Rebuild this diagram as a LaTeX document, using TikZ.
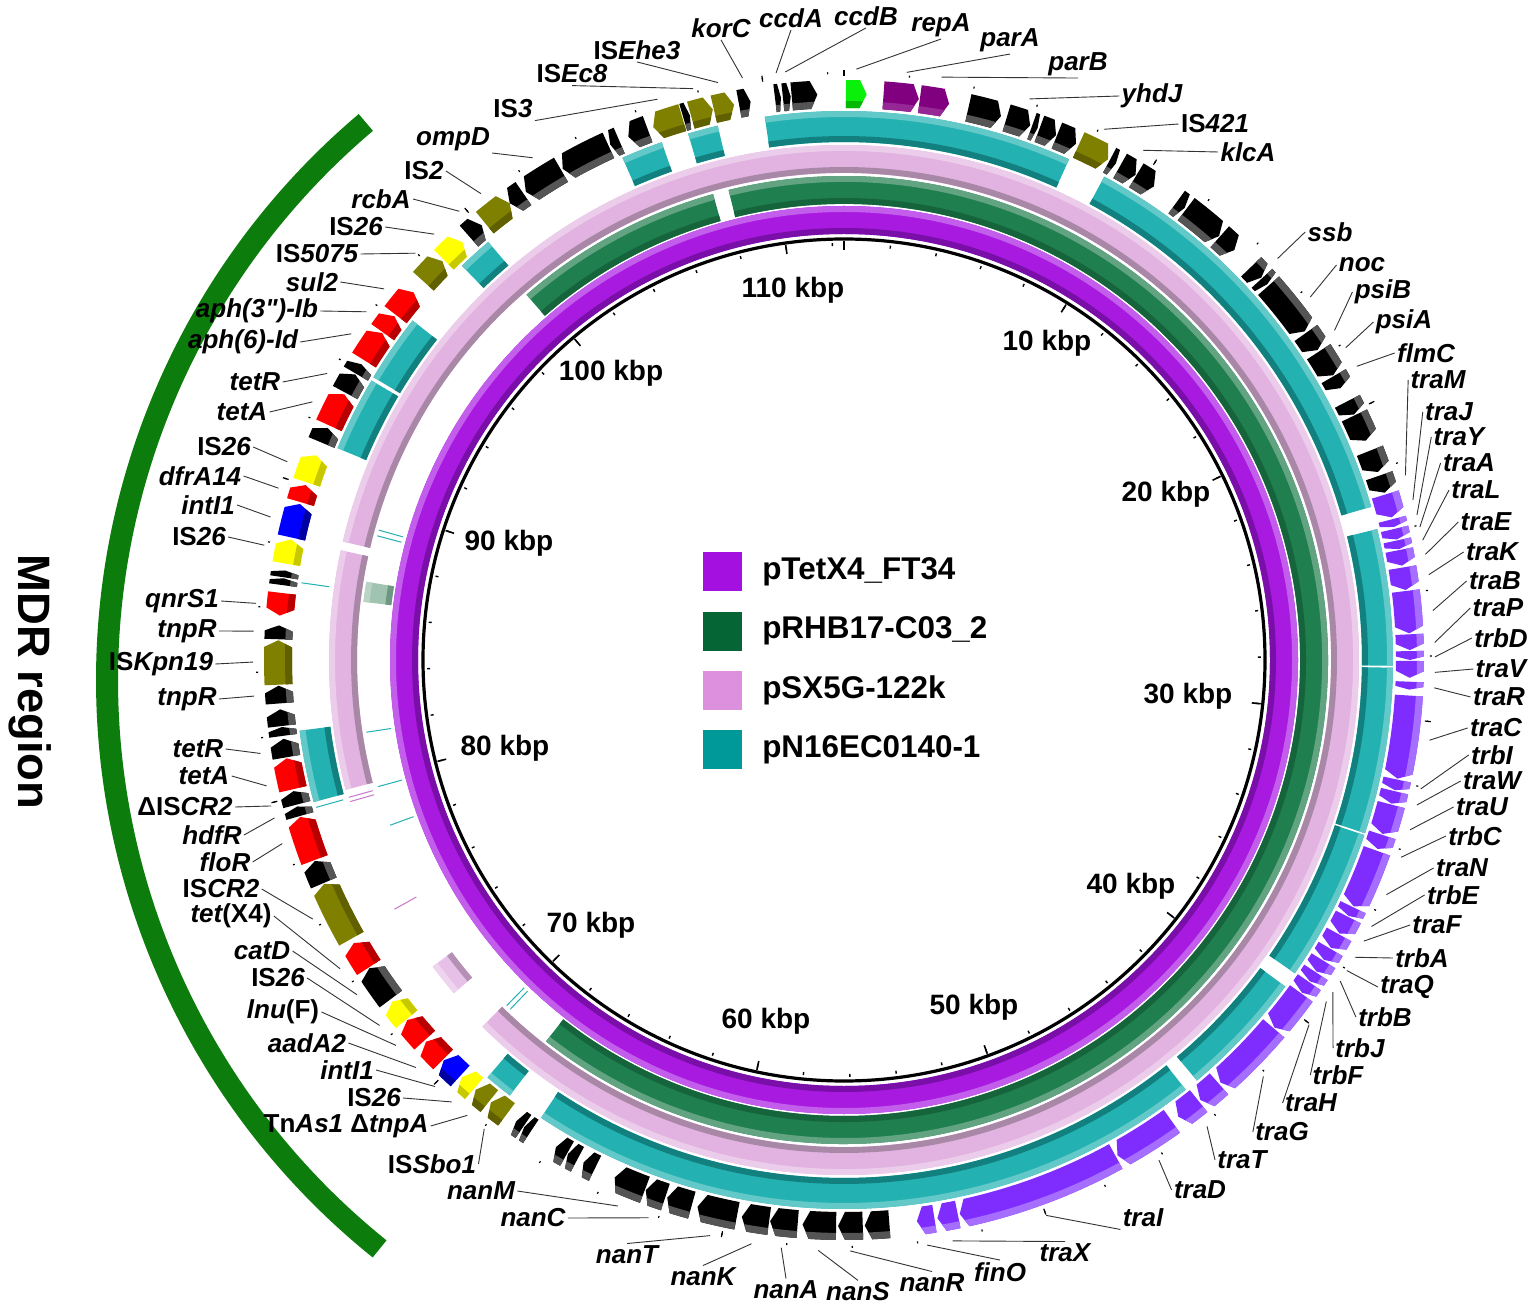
\documentclass[tikz,border=0pt]{standalone}
\usepackage{fontspec}
\setmainfont{Liberation Sans}
\usetikzlibrary{positioning}

\definecolor{pur}{RGB}{168,26,223}
\definecolor{purL}{RGB}{195,94,236}
\definecolor{purD}{RGB}{122,14,168}
\definecolor{grn}{RGB}{31,127,78}
\definecolor{grnL}{RGB}{98,163,130}
\definecolor{grnD}{RGB}{22,100,60}
\definecolor{pnk}{RGB}{226,178,224}
\definecolor{pnkL}{RGB}{236,204,235}
\definecolor{pnkD}{RGB}{168,136,166}
\definecolor{pnkH}{RGB}{200,120,200}
\definecolor{tea}{RGB}{36,177,177}
\definecolor{teaL}{RGB}{99,200,200}
\definecolor{teaD}{RGB}{19,128,128}
\definecolor{sag}{RGB}{160,196,176}
\definecolor{sagL}{RGB}{185,212,197}
\definecolor{sagD}{RGB}{110,150,130}
\definecolor{psq}{RGB}{230,192,230}
\definecolor{psqL}{RGB}{238,212,238}
\definecolor{psqD}{RGB}{180,145,180}
\definecolor{gblk}{RGB}{0,0,0}
\definecolor{gblkS}{RGB}{85,85,85}
\definecolor{golv}{RGB}{128,128,0}
\definecolor{golvS}{RGB}{96,96,0}
\definecolor{gred}{RGB}{255,0,0}
\definecolor{gredS}{RGB}{185,0,0}
\definecolor{gyel}{RGB}{255,255,0}
\definecolor{gyelS}{RGB}{200,200,0}
\definecolor{gblu}{RGB}{0,0,255}
\definecolor{gbluS}{RGB}{0,0,160}
\definecolor{ggrn}{RGB}{10,240,10}
\definecolor{ggrnS}{RGB}{0,185,0}
\definecolor{gpar}{RGB}{128,0,128}
\definecolor{gparS}{RGB}{150,40,150}
\definecolor{gtra}{RGB}{127,45,255}
\definecolor{gtraS}{RGB}{165,110,255}
\definecolor{legpur}{RGB}{163,16,224}
\definecolor{leggrn}{RGB}{5,101,53}
\definecolor{legpnk}{RGB}{221,144,221}
\definecolor{legtea}{RGB}{0,153,153}
\definecolor{mdrgreen}{RGB}{12,125,12}

\tikzset{
  glabel/.style={font=\fontsize{13}{14}\selectfont\bfseries\itshape, inner sep=1pt},
  leader/.style={draw=black!80, line width=0.45pt},
  kbp/.style={font=\fontsize{14}{15}\selectfont\bfseries, inner sep=0pt},
  swatch/.style={minimum size=19.5pt, inner sep=0pt},
  legtext/.style={font=\fontsize{15.7}{17}\selectfont\bfseries, inner sep=0pt},
  hair/.style={line width=0.5pt},
}

\newcommand{\annul}[5]{\fill[#5] (#1:#3) arc[start angle=#1,end angle=#2,radius=#3] -- (#2:#4) arc[start angle=#2,end angle=#1,radius=#4] -- cycle;}

\newcommand{\ringseg}[5]{%
  \pgfmathsetmacro\rsA{#3+6}\pgfmathsetmacro\rsB{#4-6}%
  \annul{#1}{#2}{#3}{#4}{#5}%
  \annul{#1}{#2}{#3}{\rsA}{#5D}%
  \annul{#1}{#2}{\rsB}{#4}{#5L}}

\newcommand{\gene}[4]{%
  \pgfmathsetmacro\gtip{min(0.7,0.4*(#2-#1))}%
  \pgfmathsetmacro\gb{#2-\gtip}%
  \pgfmathsetmacro\gc{#1+\gtip}%
  \pgfmathtruncatemacro\gside{(((#1+#2)/2>45) && ((#1+#2)/2<225)) ? 1 : 0}%
  \ifnum#4>0
    \def\gpath{(#1:552) arc[start angle=#1,end angle=\gb,radius=552] -- (#2:566) -- (\gb:580) arc[start angle=\gb,end angle=#1,radius=580] -- cycle}%
  \else
    \def\gpath{(#1:566) -- (\gc:552) arc[start angle=\gc,end angle=#2,radius=552] -- (#2:580) arc[start angle=#2,end angle=\gc,radius=580] -- cycle}%
  \fi
  \fill[#3] \gpath;
  \begin{scope}
    \clip \gpath;
    \ifnum\gside=1 \annul{#1}{#2}{573}{581}{#3S}\else\annul{#1}{#2}{551}{559}{#3S}\fi
  \end{scope}}

\newcommand{\glab}[5]{%
  \node[glabel] (#1) at (#3) {#5};
  \begin{scope}[shift={(844,660)},rotate=90]\coordinate (#1g) at (#4:591);\end{scope}
  \draw[leader] (#1.#2) -- (#1g);}

\begin{document}
\begin{tikzpicture}[x=0.5pt,y=-0.5pt]
\useasboundingbox (0,0) rectangle (1536,1309);
\fill[white] (0,0) rectangle (1536,1309);

\begin{scope}[shift={(837,680)},rotate=90]
  \draw[mdrgreen, line width=11pt] (218.8:730) arc[start angle=218.8,end angle=319.8,radius=730];
\end{scope}
\node[font=\fontsize{22.7}{24}\selectfont\bfseries, rotate=-90] (mdr) at (30,682) {MDR region};

\begin{scope}[shift={(844,660)},rotate=90]
  \ringseg{0}{360}{426}{454}{pur}
  \ringseg{319.0}{344.3}{456}{484}{grn}
  \ringseg{346.2}{578.0}{456}{484}{grn}
  \ringseg{276.9}{279.3}{456}{484}{sag}
  \ringseg{255.4}{282.3}{487}{515}{pnk}
  \ringseg{283.3}{584.6}{487}{515}{pnk}
  \ringseg{229.5}{233.3}{489}{513}{psq}
  \foreach \a/\b in {351.7/384.2, 28.3/73.8, 76.2/90.6, 90.8/108.4, 108.6/124.8, 126.5/140.0, 141.5/213.5, 217.5/220.5, 255.0/262.6, 292.7/300.6, 301.0/308.2, 315.9/319.6, 336.2/340.6, 343.5/346.7}
    {\ringseg{\a}{\b}{518}{549}{tea}}
  \foreach \t in {284.9,285.6,261.4,254.8,250.0,223.7,224.3}
    \draw[tea, hair] (\t:458) -- (\t:483);
  \foreach \t in {278.1,254.4}
    \draw[tea, hair] (\t:520) -- (\t:548);
  \foreach \t in {241.0,254.5,254.0}
    \draw[pnkH, hair] (\t:489) -- (\t:514);

  \draw[line width=1.6pt] (0,0) circle[radius=421];
  \foreach \t in {0,32,...,352}
    \draw[line width=0.8pt] (\t:410) -- (\t:419);
  \foreach \t in {0,6.4,...,359}
    \draw[line width=0.7pt] (\t:414) -- (\t:417);
  \foreach \t in {0,32,...,352}
    \draw[line width=0.6pt] (\t:584) -- (\t:590);
  \foreach \t in {0,6.4,...,359}
    \draw[line width=0.6pt] (\t:586) -- (\t:588);

  \foreach \a/\b/\d in {12.7/16.1/1, 16.7/19.2/1, 19.4/20.0/1, 20.2/22.0/1, 22.1/24.2/1, 28.0/28.7/1, 29.2/31.0/1, 31.1/33.2/1, 36.0/37.0/1, 37.2/41.5/1, 41.6/43.6/1, 46.0/47.5/1, 47.6/48.4/1, 48.6/54.5/1, 54.7/56.8/1, 57.0/59.8/1, 59.9/61.3/1, 62.8/64.3/1, 64.4/67.2/1, 68.3/70.6/1, 71.0/72.8/1, 175.4/177.9/1, 178.1/180.6/1, 180.8/184.2/1, 184.7/187.5/1, 187.6/190.4/1, 190.9/195.0/1, 195.6/198.2/1, 198.4/200.5/1, 200.6/203.9/1, 206.1/207.4/1, 208.1/209.2/1, 209.3/210.6/1, 213.6/214.4/1, 214.5/215.4/1, 233.2/237.0/1, 246.8/249.2/1, 254.0/255.0/1, 255.2/256.6/1, 260.1/262.0/1, 262.3/263.2/1, 263.3/265.0/1, 265.6/267.4/1, 272.1/273.5/1, 277.6/278.3/1, 278.4/279.1/1, 292.6/294.2/1, 298.2/300.3/1, 300.4/301.5/1, 318.5/320.2/1, 323.8/325.5/-1, 325.8/330.0/-1, 330.2/335.4/-1, 335.6/336.6/-1, 337.6/339.7/-1, 343.5/344.2/1, 349.3/350.5/1, 353.0/353.6/1, 353.8/354.6/1, 354.7/357.3/1}
    {\gene{\a}{\b}{gblk}{\d}}
  \foreach \a/\b/\d in {24.5/27.8/1, 216.6/218.6/1, 218.8/220.6/1, 240.5/246.7/1, 267.5/272.0/1, 312.0/314.8/1, 320.6/323.8/1, 340.3/343.4/-1, 344.3/346.6/1, 346.7/348.8/1}
    {\gene{\a}{\b}{golv}{\d}}
  \foreach \a/\b/\d in {225.1/227.6/1, 227.8/230.5/1, 237.1/240.0/1, 249.3/253.9/1, 256.8/260.0/1, 274.5/276.8/-1, 286.2/288.0/1, 294.5/298.0/1, 302.0/305.3/1, 305.4/307.4/1, 307.6/310.5/1}
    {\gene{\a}{\b}{gred}{\d}}
  \foreach \a/\b in {220.8/222.5, 230.6/232.9, 279.8/282.3, 288.3/291.2, 315.0/317.6}
    {\gene{\a}{\b}{gyel}{1}}
  \foreach \a/\b in {222.7/225.0, 282.5/286.0}
    {\gene{\a}{\b}{gblu}{1}}
  \gene{0.2}{2.3}{ggrn}{1}
  \foreach \a/\b in {4.0/7.6, 7.7/10.7}
    {\gene{\a}{\b}{gpar}{1}}
  \foreach \a/\b in {73.0/75.4, 75.6/76.4, 76.6/77.7, 77.8/78.7, 78.8/80.4, 80.6/82.9, 83.0/87.3, 87.4/89.0, 89.1/90.0, 90.1/91.8, 92.2/93.0, 93.6/102.1, 102.2/103.3, 103.4/104.7, 104.8/107.9, 108.0/109.5, 109.7/115.8, 115.9/116.9, 117.0/118.9, 119.0/120.6, 120.7/122.0, 122.1/123.4, 123.5/124.6, 124.7/126.0, 126.1/130.5, 130.6/138.3, 138.5/141.0, 141.2/143.8, 144.6/151.1, 151.3/168.2, 168.4/170.5, 170.8/172.6}
    {\gene{\a}{\b}{gtra}{1}}
\end{scope}

\node[kbp] (k10) at (1047,343) {10 kbp};
\node[kbp] (k20) at (1166,494) {20 kbp};
\node[kbp] (k30) at (1188,696) {30 kbp};
\node[kbp] (k40) at (1131,886) {40 kbp};
\node[kbp] (k50) at (974,1007) {50 kbp};
\node[kbp] (k60) at (766,1021) {60 kbp};
\node[kbp] (k70) at (591,925) {70 kbp};
\node[kbp] (k80) at (505,748) {80 kbp};
\node[kbp] (k90) at (509,543) {90 kbp};
\node[kbp] (k100) at (611,373) {100 kbp};
\node[kbp] (k110) at (793,290) {110 kbp};

\node[swatch, fill=legpur] (sw1) at (722,572) {};
\node[swatch, fill=leggrn, below=9.7pt of sw1] (sw2) {};
\node[swatch, fill=legpnk, below=9.7pt of sw2] (sw3) {};
\node[swatch, fill=legtea, below=9.7pt of sw3] (sw4) {};
\node[legtext, right=10pt of sw1] (lg1) {pTetX4\_FT34};
\node[legtext, right=10pt of sw2] (lg2) {pRHB17-C03\_2};
\node[legtext, right=10pt of sw3] (lg3) {pSX5G-122k};
\node[legtext, right=10pt of sw4] (lg4) {pN16EC0140-1};

\glab{korC}{south}{721,28}{350.1}{korC}
\glab{ccdA}{south}{791,18}{353.4}{ccdA}
\glab{ccdB}{south}{866,16}{354.3}{ccdB}
\glab{repA}{south}{941,25}{1.2}{repA}
\glab{parA}{south}{1010,40}{6.1}{parA}
\glab{parB}{south}{1078,64}{9.5}{parB}
\glab{yhdJ}{west}{1152,96}{18.3}{yhdJ}
\glab{is421}{west}{1215,124}{26.1}{{\upshape IS}421}
\glab{klcA}{west}{1248,152}{30.4}{klcA}
\glab{ssb}{west}{1330,232}{47.2}{ssb}
\glab{noc}{west}{1362,265}{52.1}{noc}
\glab{psiB}{west}{1383,292}{56.1}{psiB}
\glab{psiA}{west}{1404,322}{58.1}{psiA}
\glab{flmC}{west}{1426,353}{60.2}{flmC}
\glab{traM}{west}{1438,380}{71.8}{traM}
\glab{traJ}{west}{1449,412}{74.3}{traJ}
\glab{traY}{west}{1459,437}{75.8}{traY}
\glab{traA}{west}{1469,463}{77.0}{traA}
\glab{traL}{west}{1476,490}{78.3}{traL}
\glab{traE}{west}{1486,522}{79.7}{traE}
\glab{traK}{west}{1492,552}{81.7}{traK}
\glab{traB}{west}{1495,581}{85.2}{traB}
\glab{traP}{west}{1498,608}{88.3}{traP}
\glab{trbD}{west}{1501,638}{89.7}{trbD}
\glab{traV}{west}{1501,669}{91.2}{traV}
\glab{traR}{west}{1499,697}{92.7}{traR}
\glab{traC}{west}{1496,728}{97.8}{traC}
\glab{trbI}{west}{1492,755}{102.6}{trbI}
\glab{traW}{west}{1492,781}{104.2}{traW}
\glab{traU}{west}{1482,807}{106.7}{traU}
\glab{trbC}{west}{1475,836}{109.5}{trbC}
\glab{traN}{west}{1462,868}{113.4}{traN}
\glab{trbE}{west}{1453,895}{116.8}{trbE}
\glab{traF}{west}{1437,925}{118.4}{traF}
\glab{trbA}{west}{1422,958}{120.2}{trbA}
\glab{traQ}{west}{1407,987}{121.7}{traQ}
\glab{trbB}{west}{1385,1017}{122.9}{trbB}
\glab{trbJ}{west}{1360,1048}{124.2}{trbJ}
\glab{trbF}{west}{1338,1075}{125.3}{trbF}
\glab{traH}{west}{1311,1103}{128.1}{traH}
\glab{traG}{west}{1282,1132}{134.8}{traG}
\glab{traT}{west}{1242,1160}{142.1}{traT}
\glab{traD}{west}{1200,1190}{147.8}{traD}
\glab{traI}{south west}{1143,1218}{160.0}{traI}
\glab{traX}{north}{1065,1253}{169.4}{traX}
\glab{finO}{north}{1000,1272}{171.9}{finO}
\glab{nanR}{north}{932,1283}{179.4}{nanR}
\glab{nanS}{north}{858,1292}{182.5}{nanS}
\glab{nanA}{north}{786,1290}{186.1}{nanA}
\glab{nanK}{north}{703,1277}{189.0}{nanK}
\glab{nanT}{north}{627,1255}{193.1}{nanT}
\glab{nanC}{east}{533,1218}{199.3}{nanC}
\glab{nanM}{east}{481,1191}{202.5}{nanM}
\glab{isSbo1}{east}{432,1164}{217.5}{{\upshape IS}Sbo1}
\glab{tnAs1}{east}{346,1126}{219.6}{{\upshape Tn}As1 {\upshape Δ}tnpA}
\glab{is26e}{east}{374,1098}{221.6}{{\upshape IS}26}
\glab{intIb}{east}{347,1070}{223.8}{intI1}
\glab{aadA2}{east}{307,1043}{226.4}{aadA2}
\glab{lnuF}{east}{283,1012}{229.3}{lnu{\upshape (F)}}
\glab{is26d}{east}{278,978}{231.8}{{\upshape IS}26}
\glab{catD}{east}{262,951}{235.5}{catD}
\glab{tetX4}{east}{231,916}{238.5}{tet{\upshape (X4)}}
\glab{isCR2}{east}{221,889}{244.0}{{\upshape IS}CR2}
\glab{floR}{east}{225,862}{251.9}{floR}
\glab{hdfR}{east}{212,835}{254.5}{hdfR}
\glab{disCR2}{east}{185,807}{255.7}{{\upshape ΔIS}CR2}
\glab{tetAb}{east}{204,776}{257.7}{tetA}
\glab{tetRb}{east}{198,749}{260.9}{tetR}
\glab{tnpRb}{east}{187,699}{266.5}{tnpR}
\glab{isKpn19}{east}{161,664}{269.8}{{\upshape IS}Kpn19}
\glab{tnpRa}{east}{187,631}{272.8}{tnpR}
\glab{qnrS1}{east}{182,601}{275.5}{qnrS1}
\glab{is26c}{east}{199,537}{281.2}{{\upshape IS}26}
\glab{intIa}{east}{208,505}{284.0}{intI1}
\glab{dfrA14}{east}{200,476}{286.9}{dfrA14}
\glab{is26b}{east}{224,447}{289.6}{{\upshape IS}26}
\glab{tetAa}{east}{242,412}{295.9}{tetA}
\glab{tetRa}{east}{255,382}{299.0}{tetR}
\glab{aph6}{east}{243,342}{303.5}{aph(6)-Id}
\glab{aph3}{east}{257,311}{306.1}{aph(3\textquotedbl)-Ib}
\glab{sul2}{east}{312,282}{308.9}{sul2}
\glab{is5075}{east}{317,254}{313.5}{{\upshape IS}5075}
\glab{is26a}{east}{356,227}{316.1}{{\upshape IS}26}
\glab{rcbA}{east}{381,199}{319.4}{rcbA}
\glab{is2}{east}{424,171}{322.1}{{\upshape IS}2}
\glab{ompD}{south east}{453,139}{328.2}{ompD}
\glab{is3}{south east}{513,109}{341.6}{{\upshape IS}3}
\glab{isEc8}{south}{572,74}{345.2}{{\upshape IS}Ec8}
\glab{isEhe3}{south}{637,50}{347.7}{{\upshape IS}Ehe3}
\end{tikzpicture}
\end{document}
